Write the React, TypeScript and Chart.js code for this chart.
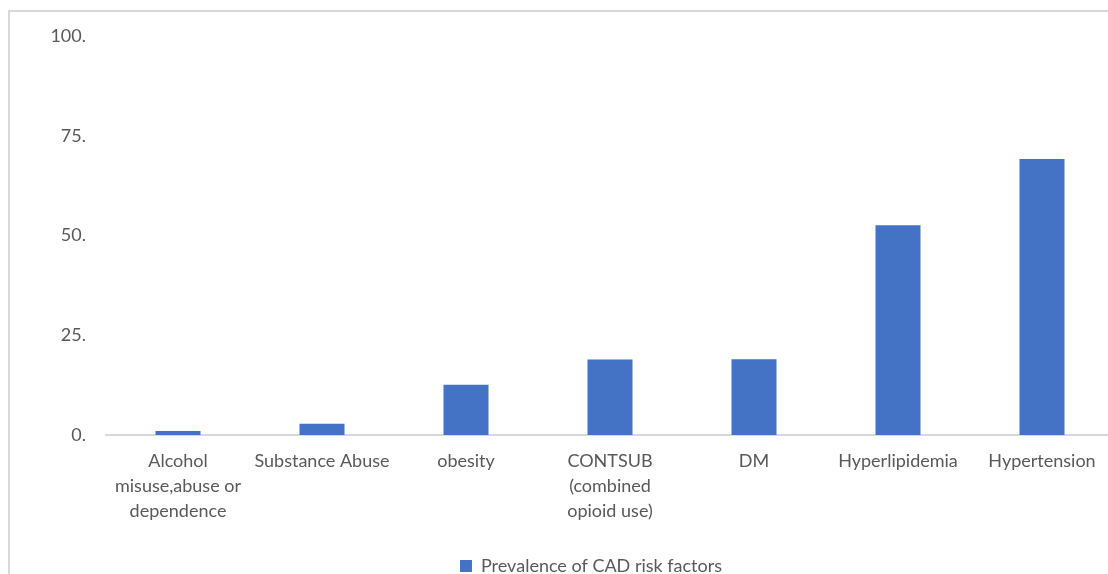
import React, { useEffect, useRef } from "react";
import { Chart, registerables } from "chart.js";

Chart.register(...registerables);

const categories: (string | string[])[] = [
  ["Alcohol", "misuse,abuse or", "dependence"],
  "Substance Abuse",
  "obesity",
  ["CONTSUB", "(combined", "opioid use)"],
  "DM",
  "Hyperlipidemia",
  "Hypertension",
];
const prevalence = [1.0, 2.8, 12.6, 18.9, 19.0, 52.6, 69.2];
const seriesName = "Prevalence of CAD risk factors";
const yTicks = [0, 25, 50, 75, 100];

const FONT = "Lato, 'Open Sans', sans-serif";
const TEXT = "#595959";

const shiftLegend = {
  id: "shiftLegend",
  afterLayout(chart: any) {
    const l = chart.legend;
    if (l) {
      l.left += 34;
      l.right += 34;
    }
  },
};

export default function App() {
  const ref = useRef<HTMLCanvasElement | null>(null);
  useEffect(() => {
    if (!ref.current) return;
    const chart = new Chart(ref.current, {
      type: "bar",
      data: {
        labels: categories,
        datasets: [
          {
            label: seriesName,
            data: prevalence,
            backgroundColor: "#4472C4",
            borderWidth: 0,
            barPercentage: 0.3125,
            categoryPercentage: 1,
          },
        ],
      },
      plugins: [shiftLegend],
      options: {
        animation: false,
        responsive: false,
        maintainAspectRatio: false,
        layout: { padding: { top: 36, right: 68, left: 0, bottom: 0 } },
        plugins: {
          tooltip: { enabled: false },
          legend: {
            position: "bottom",
            labels: {
              boxWidth: 12,
              boxHeight: 12,
              color: TEXT,
              font: { family: FONT, size: 18 },
              padding: 10,
            },
          },
        },
        scales: {
          x: {
            grid: { display: false, drawTicks: false },
            border: { display: true, color: "#d9d9d9", width: 2 },
            ticks: {
              color: TEXT,
              font: { family: FONT, size: 18, lineHeight: 25 / 18 },
              padding: 14,
              maxRotation: 0,
              autoSkip: false,
            },
            afterFit: (s: any) => {
              s.height = 112;
            },
          },
          y: {
            min: 0,
            max: 100,
            grid: { display: false, drawTicks: false },
            border: { display: false },
            afterBuildTicks: (s: any) => {
              s.ticks = yTicks.map((v) => ({ value: v }));
            },
            ticks: {
              color: TEXT,
              font: { family: FONT, size: 18 },
              padding: 20,
              callback: (v: any) => `${v}.`,
            },
            afterFit: (s: any) => {
              s.width = 106;
            },
          },
        },
      },
    });
    return () => chart.destroy();
  }, []);

  return (
    <div
      style={{
        position: "fixed",
        left: 0,
        top: 0,
        width: 1108,
        height: 574,
        overflow: "hidden",
        background: "#fff",
      }}
    >
      <div
        style={{
          position: "absolute",
          left: 8,
          top: 10,
          width: 1300,
          height: 800,
          borderLeft: "2px solid #d9d9d9",
          borderTop: "2px solid #d9d9d9",
        }}
      />
      <canvas
        ref={ref}
        width={1182}
        height={585}
        style={{ position: "absolute", left: 0, top: 0, width: 1182, height: 585 }}
      />
    </div>
  );
}
